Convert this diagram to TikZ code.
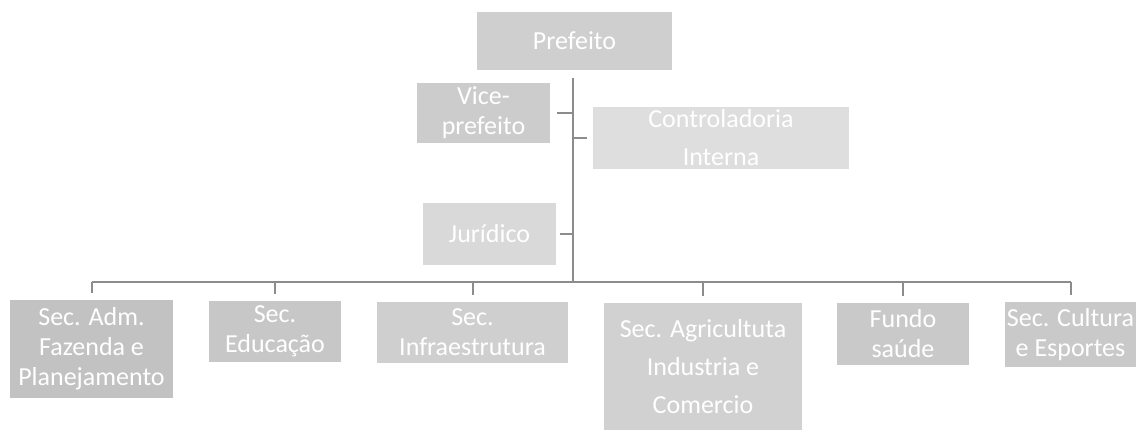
\documentclass[tikz,border=0pt]{standalone}
\usepackage{fontspec}
\setmainfont{Carlito}
\definecolor{linegray}{HTML}{8C8C8C}
\begin{document}
\begin{tikzpicture}[x=1pt,y=-1pt,
  orgbox/.style={fill=#1,draw=none,text=white,align=center,inner sep=0pt,
    font=\fontsize{26}{30}\selectfont},
  orgbox/.default={black!20},
  tallbox/.style={orgbox=#1,font=\fontsize{26}{38}\selectfont},
  tallbox/.default={black!20},
  link/.style={draw=linegray,line width=2pt}]
\useasboundingbox (0,0) rectangle (1137,430);
% boxes
\node[orgbox=black!19,minimum width=195,minimum height=58] (pref) at (574.5,41) {Prefeito};
\node[orgbox=black!20,minimum width=133,minimum height=60] (vice) at (483.5,113) {Vice-\\prefeito};
\node[tallbox=black!13,minimum width=256,minimum height=62] (ctrl) at (721,138) {Controladoria\\Interna};
\node[orgbox=black!15,minimum width=133,minimum height=62] (jur) at (489.5,234) {Jurídico};
\node[orgbox=black!24,minimum width=163,minimum height=98] (adm) at (91.5,349) {Sec. Adm.\\Fazenda e\\Planejamento};
\node[orgbox=black!22,minimum width=132,minimum height=61] (edu) at (275,331.5) {Sec.\\Educação};
\node[orgbox=black!19,minimum width=191,minimum height=61] (inf) at (472.5,332.5) {Sec.\\Infraestrutura};
\node[tallbox=black!18,minimum width=198,minimum height=127] (agr) at (703,366.5) {Sec. Agricultuta\\Industria e\\Comercio};
\node[orgbox=black!21,minimum width=132,minimum height=62] (fun) at (903,334) {Fundo\\saúde};
\node[orgbox=black!21,minimum width=131,minimum height=65] (cul) at (1070.5,334.5) {Sec. Cultura\\e Esportes};
% connectors
\coordinate (vtop) at (573,78);
\coordinate (hub) at (573,282);
\draw[link] (vtop) -- (hub);
\draw[link] (adm.north |- hub) -- (cul.north |- hub);
\foreach \n in {adm,edu,inf,agr,fun,cul}
  \draw[link,shorten >=7pt] (\n.north |- hub) -- (\n.north);
\draw[link,shorten >=7pt] (vtop |- vice.east) -- (vice.east);
\draw[link,shorten >=6pt] (vtop |- ctrl.west) -- (ctrl.west);
\draw[link,shorten >=4pt] (vtop |- jur.east) -- (jur.east);
\end{tikzpicture}
\end{document}
